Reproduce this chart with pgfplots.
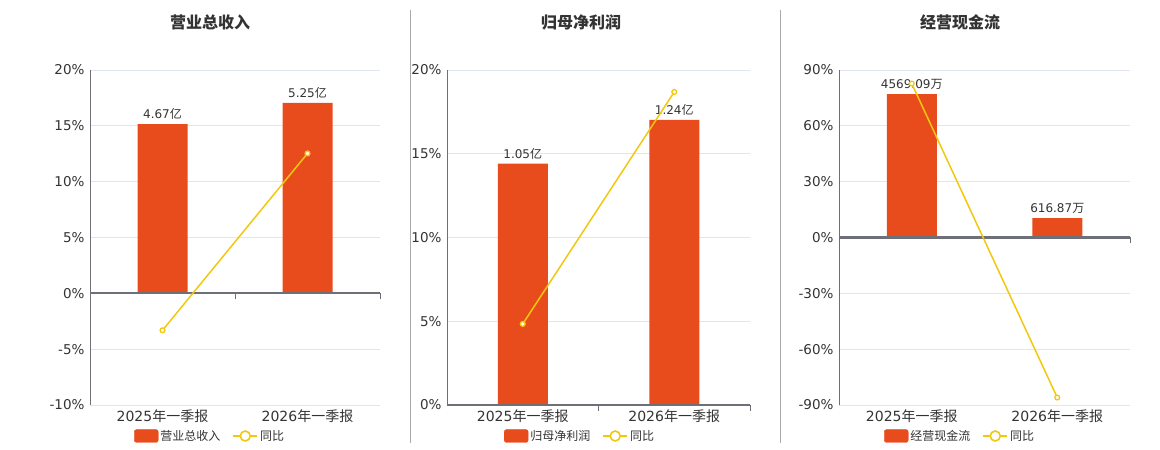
\documentclass[border=0pt]{standalone}
\usepackage{fontspec}
\setmainfont{DejaVu Sans}
\newfontfamily\cjk{Noto Sans CJK SC}
\usepackage{pgfplots}
\pgfplotsset{compat=1.18}
\definecolor{barred}{HTML}{E84C1D}
\definecolor{lineyel}{HTML}{F2C80F}
\definecolor{gridc}{HTML}{E0E6F1}
\definecolor{axisc}{HTML}{6E7079}
\definecolor{txt}{HTML}{333333}
\definecolor{sepc}{HTML}{AAAAAA}

\tikzset{
  zeroline/.style={axisc, line width=2.2pt},
  zerotick/.style={axisc, line width=1pt},
}
\pgfplotsset{
  base/.style={scale only axis, height=335pt, xmin=-0.5, xmax=1.5, clip=false, anchor=south west},
  pct/.style={base,
    axis x line*=bottom, axis y line*=left,
    x axis line style={draw=none}, y axis line style={axisc, line width=0.9pt},
    xtick={0,1}, xticklabels={2025{\cjk 年一季报},2026{\cjk 年一季报}},
    major tick length=0pt,
    ymajorgrids, grid style={gridc, line width=0.8pt},
    yticklabel style={font=\fontsize{13.5}{15}\selectfont, text=txt, xshift=-2pt},
    xticklabel style={font=\fontsize{14}{16}\selectfont, text=txt, yshift=-1pt},
  },
  barax/.style={base, axis lines=none, ybar, bar width=50pt,
    nodes near coords, point meta=explicit symbolic,
    every node near coord/.append style={font=\fontsize{12}{14}\selectfont, text=txt, yshift=1pt}},
  lineax/.style={base, axis lines=none,
    legend columns=2,
    legend style={draw=none, fill=none, anchor=center, font=\fontsize{12}{14}\selectfont, text=txt,
      /tikz/every even column/.append style={column sep=10pt}},
    legend cell align=left},
  barleg/.style={legend image code/.code={\fill[barred, rounded corners=2.5pt] (0pt,-6.5pt) rectangle (24pt,6.5pt);}},
  lineleg/.style={legend image code/.code={\draw[lineyel, line width=1.6pt] (0pt,0pt) -- (24pt,0pt);
      \draw[lineyel, fill=white, line width=1.6pt] (12pt,0pt) circle (5pt);}},
  yoy/.style={lineyel, line width=1.5pt, mark=*, mark size=2.4pt,
    mark options={fill=white, draw=lineyel, line width=1.3pt}},
}

\begin{document}
\begin{tikzpicture}
\path[use as bounding box] (0,0) rectangle (1160pt,450pt);
\draw[sepc, line width=0.8pt] (410.5pt,7pt) -- (410.5pt,440pt);
\draw[sepc, line width=0.8pt] (780.5pt,7pt) -- (780.5pt,440pt);
\node[font=\cjk\bfseries\fontsize{16}{18}\selectfont, text=txt] at (210pt,428pt) {营业总收入};
\node[font=\cjk\bfseries\fontsize{16}{18}\selectfont, text=txt] at (581pt,428pt) {归母净利润};
\node[font=\cjk\bfseries\fontsize{16}{18}\selectfont, text=txt] at (960pt,428pt) {经营现金流};

% ---------- Chart 1 ----------
\begin{axis}[pct, at={(90pt,45pt)}, width=290pt, ymin=-10, ymax=20,
  ytick={-10,-5,0,5,10,15,20}, yticklabels={-10\%,-5\%,0\%,5\%,10\%,15\%,20\%}]
\end{axis}
\begin{axis}[barax, at={(90pt,45pt)}, width=290pt, ymin=-3.08, ymax=6.16]
\addplot[fill=barred, draw=none] coordinates {(0,4.67) [4.67{\cjk 亿}] (1,5.25) [5.25{\cjk 亿}]};
\end{axis}
\begin{axis}[lineax, at={(90pt,45pt)}, width=290pt, ymin=-10, ymax=20,
  legend style={at={(0.414,-0.0925)}}]
\draw[zeroline] (axis cs:-0.5,0) -- (axis cs:1.5,0);
\draw[zerotick] (axis cs:0.5,0) -- ++(0pt,-6pt);
\draw[zerotick] (axis cs:1.5,0) -- ++(0pt,-6pt);
\addlegendimage{barleg}\addlegendentry{\cjk 营业总收入}
\addlegendimage{lineleg}\addlegendentry{\cjk 同比}
\addplot[yoy, forget plot] coordinates {(0,-3.31) (1,12.53)};
\end{axis}

% ---------- Chart 2 ----------
\begin{axis}[pct, at={(447pt,45pt)}, width=303pt, ymin=0, ymax=20,
  ytick={0,5,10,15,20}, yticklabels={0\%,5\%,10\%,15\%,20\%}]
\end{axis}
\begin{axis}[barax, at={(447pt,45pt)}, width=303pt, ymin=0, ymax=1.4575]
\addplot[fill=barred, draw=none] coordinates {(0,1.05) [1.05{\cjk 亿}] (1,1.24) [1.24{\cjk 亿}]};
\end{axis}
\begin{axis}[lineax, at={(447pt,45pt)}, width=303pt, ymin=0, ymax=20,
  legend style={at={(0.439,-0.0925)}}]
\draw[zeroline] (axis cs:-0.5,0) -- (axis cs:1.5,0);
\draw[zerotick] (axis cs:0.5,0) -- ++(0pt,-6pt);
\draw[zerotick] (axis cs:1.5,0) -- ++(0pt,-6pt);
\addlegendimage{barleg}\addlegendentry{\cjk 归母净利润}
\addlegendimage{lineleg}\addlegendentry{\cjk 同比}
\addplot[yoy, forget plot] coordinates {(0,4.84) (1,18.69)};
\end{axis}

% ---------- Chart 3 ----------
\begin{axis}[pct, at={(839pt,45pt)}, width=291pt, ymin=-90, ymax=90,
  ytick={-90,-60,-30,0,30,60,90}, yticklabels={-90\%,-60\%,-30\%,0\%,30\%,60\%,90\%}]
\end{axis}
\begin{axis}[barax, at={(839pt,45pt)}, width=291pt, ymin=-5336, ymax=5336]
\addplot[fill=barred, draw=none] coordinates {(0,4569.09) [4569.09{\cjk 万}] (1,616.87) [616.87{\cjk 万}]};
\end{axis}
\begin{axis}[lineax, at={(839pt,45pt)}, width=291pt, ymin=-90, ymax=90,
  legend style={at={(0.416,-0.0925)}}]
\draw[zeroline] (axis cs:-0.5,0) -- (axis cs:1.5,0);
\draw[zerotick] (axis cs:1.5,0) -- ++(0pt,-6pt);
\addlegendimage{barleg}\addlegendentry{\cjk 经营现金流}
\addlegendimage{lineleg}\addlegendentry{\cjk 同比}
\addplot[yoy, forget plot] coordinates {(0,82.7) (1,-86.0)};
\end{axis}
\end{tikzpicture}
\end{document}
